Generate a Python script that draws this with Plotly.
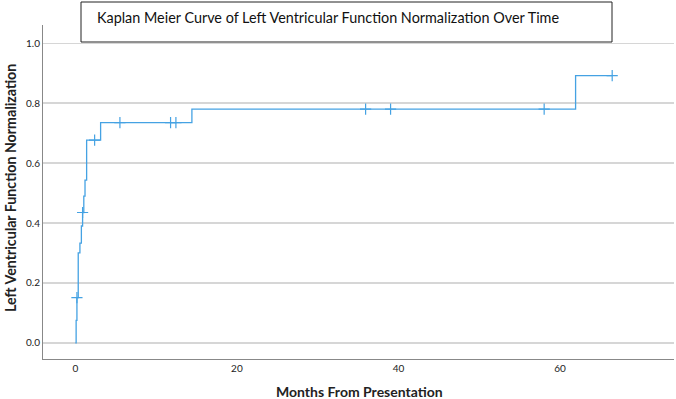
import plotly.graph_objects as go

# Step function (Kaplan-Meier, cumulative normalization)
step_times = [0, 0.1, 0.2, 0.36, 0.57, 0.75, 0.9, 1.05, 1.2, 1.4, 3.13, 14.43, 61.92, 66.45]
step_values = [0, 0.075, 0.151, 0.30, 0.333, 0.39, 0.435, 0.49, 0.543, 0.677, 0.735, 0.78, 0.892, 0.892]

# Censored observations
censor_times = [0.2, 0.9, 2.39, 5.52, 11.79, 12.45, 35.93, 39.02, 58.03, 66.45]
censor_values = [0.151, 0.435, 0.677, 0.735, 0.735, 0.735, 0.78, 0.78, 0.78, 0.892]

x_ticks = [0, 20, 40, 60]
y_ticks = [0.0, 0.2, 0.4, 0.6, 0.8, 1.0]
y_tick_labels = ["0.0", "0.2", "0.4", "0.6", "0.8", "1.0"]

title_text = "Kaplan Meier Curve of Left Ventricular Function Normalization Over Time"
x_title = "Months From Presentation"
y_title = "Left Ventricular Function Normalization"

line_color = "#45a2e3"

fig = go.Figure()
fig.add_trace(go.Scatter(
    x=step_times, y=step_values, mode="lines", line_shape="hv",
    line=dict(color=line_color, width=1.3), hoverinfo="skip", showlegend=False))
fig.add_trace(go.Scatter(
    x=censor_times, y=censor_values, mode="markers",
    marker=dict(symbol="cross-thin-open", size=8, color=line_color,
                line=dict(color=line_color, width=1.2)),
    showlegend=False))

W, H = 676, 399
L, T = 43, 25
plot_right, plot_bottom = 674, 359
R, B = W - plot_right, H - plot_bottom
pw, ph = plot_right - L, plot_bottom - T

def px(x):
    return (x - L) / pw

def py(y):
    return (plot_bottom - y) / ph

fig.update_layout(
    width=W, height=H,
    margin=dict(l=L, r=R, t=T, b=B),
    paper_bgcolor="white", plot_bgcolor="white",
    font=dict(family="Lato, Open Sans, sans-serif", color="#222"),
    xaxis=dict(range=[-4.0, 74.1], tickvals=x_ticks, ticktext=[str(v) for v in x_ticks],
               showgrid=False, zeroline=False, showline=True, linecolor="#888", linewidth=1,
               ticks="", tickfont=dict(size=10, color="#222"), fixedrange=True),
    yaxis=dict(range=[-0.054, 1.061], tickvals=y_ticks, ticktext=y_tick_labels,
               showgrid=True, gridcolor="#d6d6d6", gridwidth=1.5, zeroline=False,
               showline=True, linecolor="#888", linewidth=1, ticks="",
               tickfont=dict(size=10, color="#222"), fixedrange=True),
    shapes=[dict(type="rect", xref="paper", yref="paper",
                 x0=px(81), x1=px(612), y0=py(42), y1=py(2),
                 line=dict(color="#222", width=1), fillcolor="white", layer="above")],
    annotations=[
        dict(text=title_text, xref="paper", yref="paper", x=px(95), y=py(17),
             xanchor="left", yanchor="middle", showarrow=False,
             font=dict(size=14.4, color="#111", family="Lato, sans-serif")),
        dict(text="<b>" + x_title + "</b>", xref="paper", yref="paper", x=px(359), y=py(391),
             xanchor="center", yanchor="middle", showarrow=False,
             font=dict(size=14, color="#222", family="Lato, sans-serif")),
        dict(text="<b>" + y_title + "</b>", xref="paper", yref="paper", x=px(10), y=py(188),
             xanchor="center", yanchor="middle", showarrow=False, textangle=-90,
             font=dict(size=14.2, color="#222", family="Lato, sans-serif")),
    ],
)

fig.write_html("out.html", config={"displayModeBar": False, "staticPlot": True},
               post_script="document.body.style.margin='0';document.body.style.overflow='hidden';")
